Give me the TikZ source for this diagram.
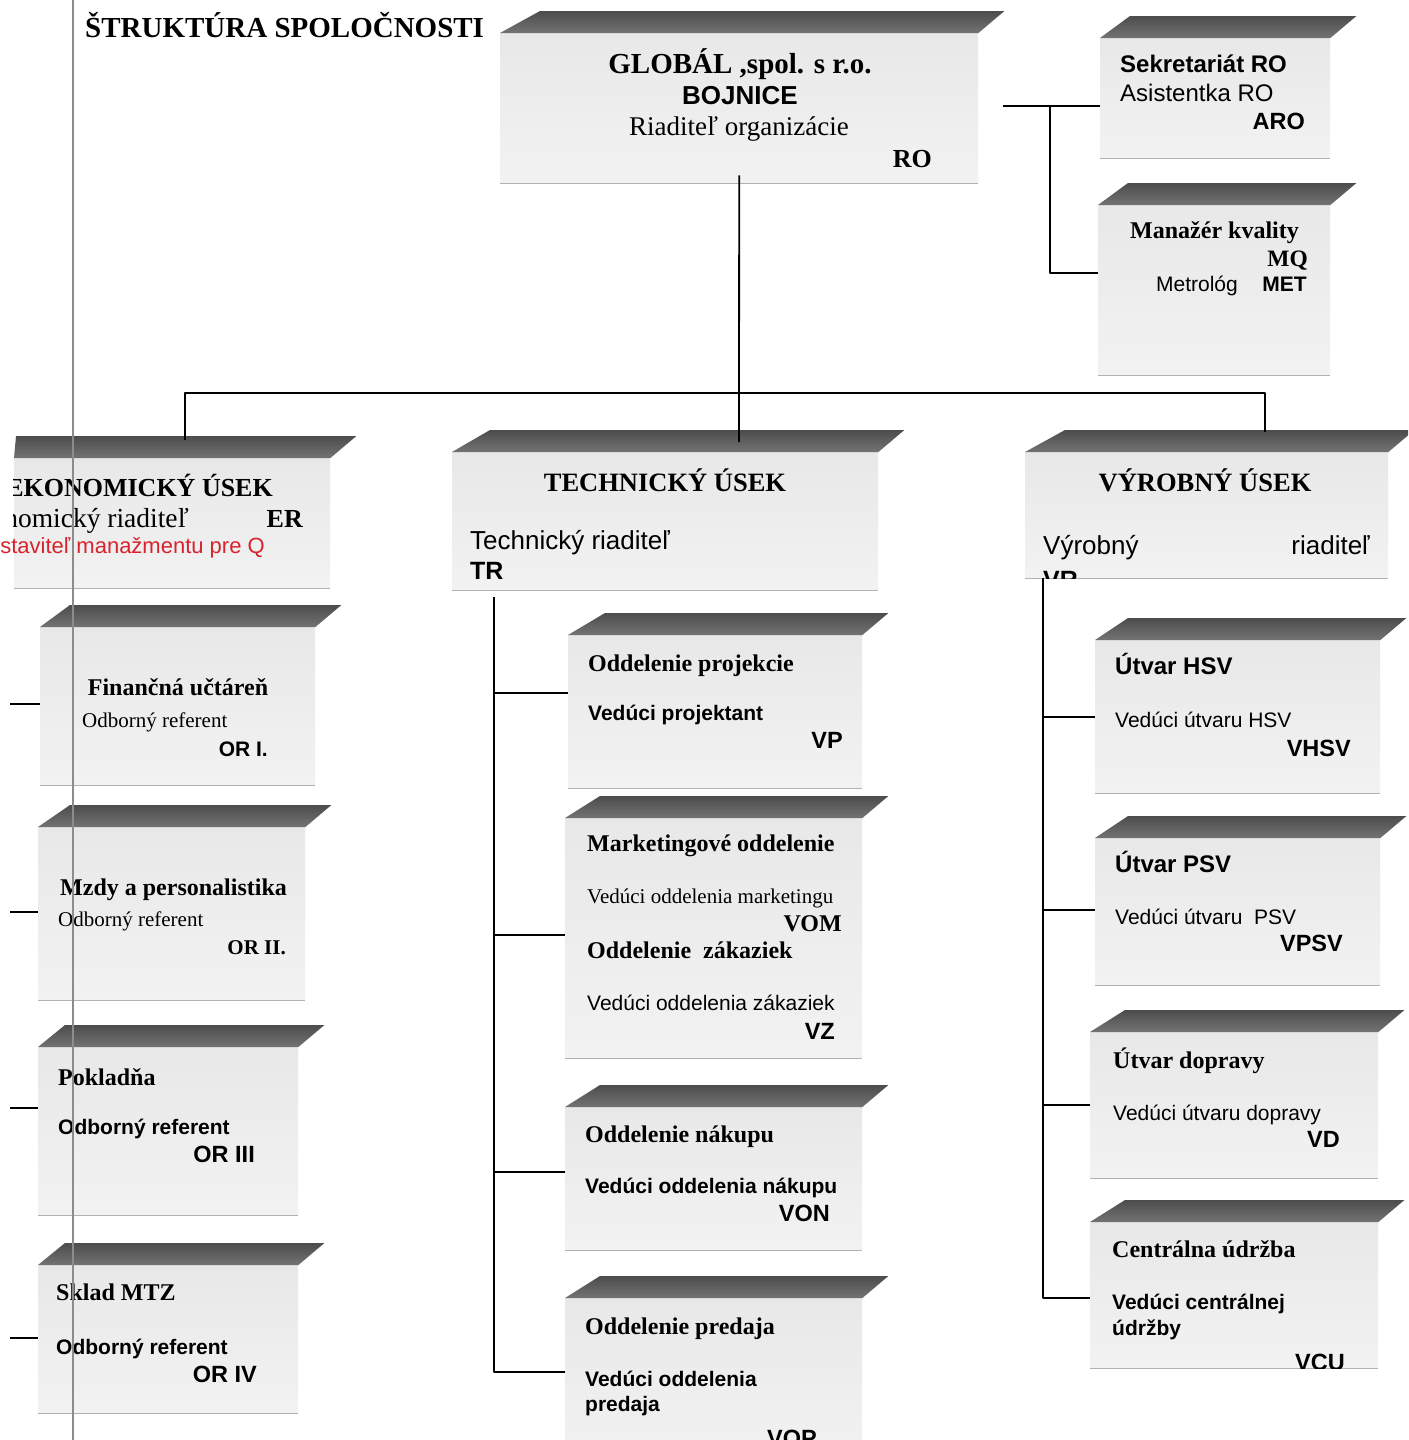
\documentclass[tikz,border=0pt]{standalone}
\usepackage{fontspec}
\setmainfont{Liberation Serif}
\setsansfont{Liberation Sans}
\definecolor{qred}{RGB}{215,35,45}
\newcommand{\fsz}[1]{\fontsize{#1}{#1}\selectfont}
% name, x, y, width, height, lid offset
\newcommand{\ubox}[6]{%
  \node[face, minimum width=#4pt, minimum height=#5pt, anchor=north west] (#1) at (#2,#3) {};
  \shade[lid] (#1.north west) -- (#1.north east) -- ++(26,-22) -- ([shift={(#6pt,22pt)}]#1.north west) -- cycle;
  \draw[edge] (#1.south west) -- (#1.south east);
}
\begin{document}
\begin{tikzpicture}[x=1pt, y=-1pt, line join=round,
    face/.style={inner sep=0pt, top color=black!9, bottom color=black!5},
    lid/.style={top color=black!70, bottom color=black!55},
    edge/.style={black!30, line width=1.5pt},
    link/.style={black, line width=1.8pt},
    txl/.style={inner sep=0pt, anchor=base west},
    txr/.style={inner sep=0pt, anchor=base east},
    txc/.style={inner sep=0pt, anchor=base},
    hd/.style={font=\fsz{26.5}\bfseries},
    sb/.style={font=\fsz{24}\bfseries},
    sr/.style={font=\fsz{21}},
    ss/.style={font=\sffamily\fsz{21}},
    ssb/.style={font=\sffamily\bfseries\fsz{21}},
    cd/.style={font=\sffamily\bfseries\fsz{23.5}}]
  \useasboundingbox (0,0) rectangle (1408,1440);
  \fill[white] (0,0) rectangle (1408,1440);
  \clip (0,0) rectangle (1408,1440);

  \ubox{glob}{500}{33}{478}{150}{40}
  \ubox{sek}{1100}{38}{230}{120}{30}
  \ubox{mq}{1098}{205}{232}{170}{30}
  \ubox{eko}{14}{458}{316}{130}{2}
  \ubox{fin}{40}{627}{275}{158}{30}
  \ubox{mzdy}{38}{827}{267}{173}{32}
  \ubox{pokl}{38}{1047}{260}{168}{27}
  \ubox{sklad}{38}{1265}{260}{148}{27}
  \ubox{tech}{452}{452}{426}{138}{38}
  \ubox{proj}{568}{635}{294}{153}{37}
  \ubox{mark}{565}{818}{297}{240}{35}
  \ubox{nak}{565}{1107}{297}{143}{35}
  \ubox{pred}{565}{1298}{297}{160}{35}
  \ubox{vyr}{1025}{452}{363}{126}{40}
  \ubox{hsv}{1095}{640}{285}{153}{33}
  \ubox{psv}{1095}{838}{285}{147}{33}
  \ubox{dop}{1090}{1032}{288}{146}{35}
  \ubox{cu}{1090}{1222}{288}{146}{35}

  % connectors
  \coordinate (hub) at (739,393);
  \coordinate (tj) at (739,442);
  \coordinate (ej) at (185,440);
  \coordinate (vj) at (1265,432);
  \coordinate (gr) at (1003,106);
  \coordinate (rj) at (1050,106);
  \coordinate (tr) at (494,597);
  \coordinate (vr) at (1043,578);
  \draw[link] ([yshift=8pt]glob.south) -- (tj);
  \draw[link] (ej) |- (hub) -| (vj);
  \draw[link] (gr) -- (sek.west |- gr);
  \draw[link] (rj) |- (mq.west |- 0,273);
  \foreach \n/\y in {proj/693, mark/935, nak/1172, pred/1372}
    \draw[link] (tr) |- (\n.west |- 0,\y);
  \foreach \n/\y in {hsv/717, psv/910, dop/1105, cu/1298}
    \draw[link] (vr) |- (\n.west |- 0,\y);
  \foreach \n/\y in {fin/704, mzdy/912, pokl/1108, sklad/1338}{
    \coordinate (s\n) at (10,\y);
    \draw[link] (s\n) -- (\n.west |- s\n);
  }

  \node[txl, font=\fsz{29}\bfseries] (title) at (85,37) {ŠTRUKTÚRA SPOLOČNOSTI};

  \node[txc, font=\fsz{29}\bfseries] (g1) at (740,73) {GLOBÁL ,spol. s r.o.};
  \node[txc, font=\sffamily\bfseries\fsz{26}] (g2) at (740,104) {BOJNICE};
  \node[txc, font=\fsz{27}] (g3) at (739,135) {Riaditeľ organizácie};
  \node[txr, font=\fsz{26}\bfseries] (g4) at (932,167) {RO};

  \node[txl, font=\sffamily\bfseries\fsz{24}] (s1) at (1120,72) {Sekretariát RO};
  \node[txl, font=\sffamily\fsz{24}] (s2) at (1120,101) {Asistentka RO};
  \node[txr, cd] (s3) at (1305,129) {ARO};

  \node[txl, sb] (m1) at (1130,238) {Manažér kvality};
  \node[txr, font=\fsz{23.5}\bfseries] (m2) at (1308,266) {MQ};
  \node[txr, ss] (m3) at (1238,291) {Metrológ};
  \node[txr, ssb] (m4) at (1307,291) {MET};

  \begin{scope}
    \clip (13,440) rectangle (340,600);
    \node[txr, font=\fsz{26}\bfseries] (e1) at (273,496) {EKONOMICKÝ ÚSEK};
    \node[txr, font=\fsz{27.5}] (e2) at (189,527) {Ekonomický riaditeľ};
  \end{scope}
  \node[txr, font=\fsz{26}\bfseries] (e3) at (303,527) {ER};
  \node[txr, font=\sffamily\fsz{22}, text=qred] (e4) at (265,553) {Predstaviteľ manažmentu pre Q};

  \node[txc, sb] (f1) at (178,695) {Finančná učtáreň};
  \node[txl, sr] (f2) at (82,727) {Odborný referent};
  \node[txr, ssb] (f3) at (268,756) {OR I.};

  \node[txl, sb] (z1) at (60,895) {Mzdy a personalistika};
  \node[txl, sr] (z2) at (58,926) {Odborný referent};
  \node[txr, font=\fsz{21}\bfseries] (z3) at (286,954) {OR II.};

  \node[txl, sb] (p1) at (58,1085) {Pokladňa};
  \node[txl, ssb] (p2) at (58,1134) {Odborný referent};
  \node[txr, cd] (p3) at (255,1162) {OR III};

  \node[txl, sb] (k1) at (56,1300) {Sklad MTZ};
  \node[txl, ssb] (k2) at (56,1354) {Odborný referent};
  \node[txr, cd] (k3) at (257,1382) {OR IV};

  \node[txc, hd] (t1) at (665,491) {TECHNICKÝ ÚSEK};
  \node[txl, font=\sffamily\fsz{26}] (t2) at (470,549) {Technický riaditeľ};
  \node[txl, font=\sffamily\bfseries\fsz{25}] (t3) at (470,579) {TR};

  \node[txl, sb] (o1) at (588,671) {Oddelenie projekcie};
  \node[txl, ssb] (o2) at (588,720) {Vedúci projektant};
  \node[txr, cd] (o3) at (843,748) {VP};

  \node[txl, sb] (a1) at (587,851) {Marketingové oddelenie};
  \node[txl, sr] (a2) at (587,903) {Vedúci oddelenia marketingu};
  \node[txr, sb] (a3) at (842,931) {VOM};
  \node[txl, sb] (a4) at (587,958) {Oddelenie\ \ zákaziek};
  \node[txl, ss] (a5) at (587,1010) {Vedúci oddelenia zákaziek};
  \node[txr, cd] (a6) at (835,1039) {VZ};

  \node[txl, sb] (n1) at (585,1142) {Oddelenie nákupu};
  \node[txl, ssb] (n2) at (585,1193) {Vedúci oddelenia nákupu};
  \node[txr, cd] (n3) at (830,1221) {VON};

  \node[txl, sb] (d1) at (585,1334) {Oddelenie predaja};
  \node[txl, ssb] (d2) at (585,1386) {Vedúci oddelenia};
  \node[txl, ssb] (d3) at (585,1411) {predaja};
  \node[txr, cd] (d4) at (817,1446) {VOP};

  \node[txc, hd] (v1) at (1205,491) {VÝROBNÝ ÚSEK};
  \node[txl, font=\sffamily\fsz{26}] (v2) at (1043,554) {Výrobný};
  \node[txr, font=\sffamily\fsz{26}] (v3) at (1370,554) {riaditeľ};
  \begin{scope}
    \clip (vyr.south west) rectangle (vyr.north east);
    \node[txl, font=\sffamily\bfseries\fsz{25}] (v4) at (1043,588) {VR};
  \end{scope}

  \node[txl, font=\sffamily\bfseries\fsz{24}] (h1) at (1115,674) {Útvar HSV};
  \node[txl, ss] (h2) at (1115,727) {Vedúci útvaru HSV};
  \node[txr, cd] (h3) at (1351,756) {VHSV};

  \node[txl, font=\sffamily\bfseries\fsz{24}] (q1) at (1115,872) {Útvar PSV};
  \node[txl, ss] (q2) at (1115,924) {Vedúci útvaru\ \ PSV};
  \node[txr, cd] (q3) at (1343,951) {VPSV};

  \node[txl, sb] (y1) at (1113,1068) {Útvar dopravy};
  \node[txl, ss] (y2) at (1113,1120) {Vedúci útvaru dopravy};
  \node[txr, cd] (y3) at (1340,1147) {VD};

  \node[txl, sb] (c1) at (1112,1257) {Centrálna údržba};
  \node[txl, ssb] (c2) at (1112,1309) {Vedúci centrálnej};
  \node[txl, ssb] (c3) at (1112,1335) {údržby};
  \begin{scope}
    \clip (cu.south west) rectangle (cu.north east);
    \node[txr, cd] (c4) at (1345,1370) {VCU};
  \end{scope}

  % scan edge
  \draw[black!45, line width=2pt] (73,0) -- (73,1440);
\end{tikzpicture}
\end{document}
